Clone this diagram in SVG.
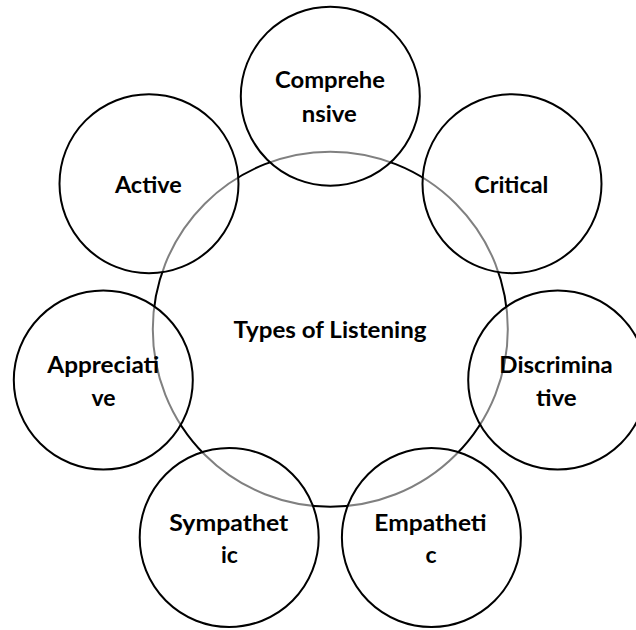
<svg xmlns="http://www.w3.org/2000/svg" width="636" height="630" viewBox="0 0 636 630">
<style>
.bg{fill:#ffffff}
.hub{fill:none;stroke:#000;stroke-width:2}
.sat{fill:#ffffff;fill-opacity:0.5;stroke:#000;stroke-width:2}
.lbl{font-family:"Lato","Liberation Sans",sans-serif;font-weight:700;font-size:23px;fill:#000;text-anchor:middle}
</style>
<rect class="bg" x="0" y="0" width="636" height="630"/>
<g id="center">
<circle class="hub" cx="330.3" cy="329.2" r="177.5"/>
<text class="lbl" x="330" y="338" textLength="193" lengthAdjust="spacingAndGlyphs">Types of Listening</text>
</g>
<g id="comprehensive">
<circle class="sat" cx="330.3" cy="96.2" r="89.5"/>
<text class="lbl" x="330" y="88.3" textLength="110" lengthAdjust="spacingAndGlyphs">Comprehe</text>
<text class="lbl" x="329.2" y="121.5" textLength="55" lengthAdjust="spacingAndGlyphs">nsive</text>
</g>
<g id="critical">
<circle class="sat" cx="512" cy="183.7" r="89.5"/>
<text class="lbl" x="511.3" y="192.7" textLength="74" lengthAdjust="spacingAndGlyphs">Critical</text>
</g>
<g id="discriminative">
<circle class="sat" cx="557.7" cy="380" r="89.5"/>
<text class="lbl" x="556" y="373.3" textLength="113.3" lengthAdjust="spacingAndGlyphs">Discrimina</text>
<text class="lbl" x="556.3" y="405.5" textLength="40.7" lengthAdjust="spacingAndGlyphs">tive</text>
</g>
<g id="empathetic">
<circle class="sat" cx="431.4" cy="537.5" r="89.5"/>
<text class="lbl" x="430.5" y="530.7" textLength="112.3" lengthAdjust="spacingAndGlyphs">Empatheti</text>
<text class="lbl" x="431" y="562.5">c</text>
</g>
<g id="sympathetic">
<circle class="sat" cx="229.2" cy="537.5" r="89.5"/>
<text class="lbl" x="228.8" y="530.7" textLength="119" lengthAdjust="spacingAndGlyphs">Sympathet</text>
<text class="lbl" x="229.5" y="562.5">ic</text>
</g>
<g id="appreciative">
<circle class="sat" cx="103.3" cy="380" r="89.5"/>
<text class="lbl" x="103.3" y="373.3" textLength="112" lengthAdjust="spacingAndGlyphs">Appreciati</text>
<text class="lbl" x="103.5" y="405.5">ve</text>
</g>
<g id="active">
<circle class="sat" cx="149" cy="183.7" r="89.5"/>
<text class="lbl" x="148.3" y="192.7" textLength="66.7" lengthAdjust="spacingAndGlyphs">Active</text>
</g>
</svg>
